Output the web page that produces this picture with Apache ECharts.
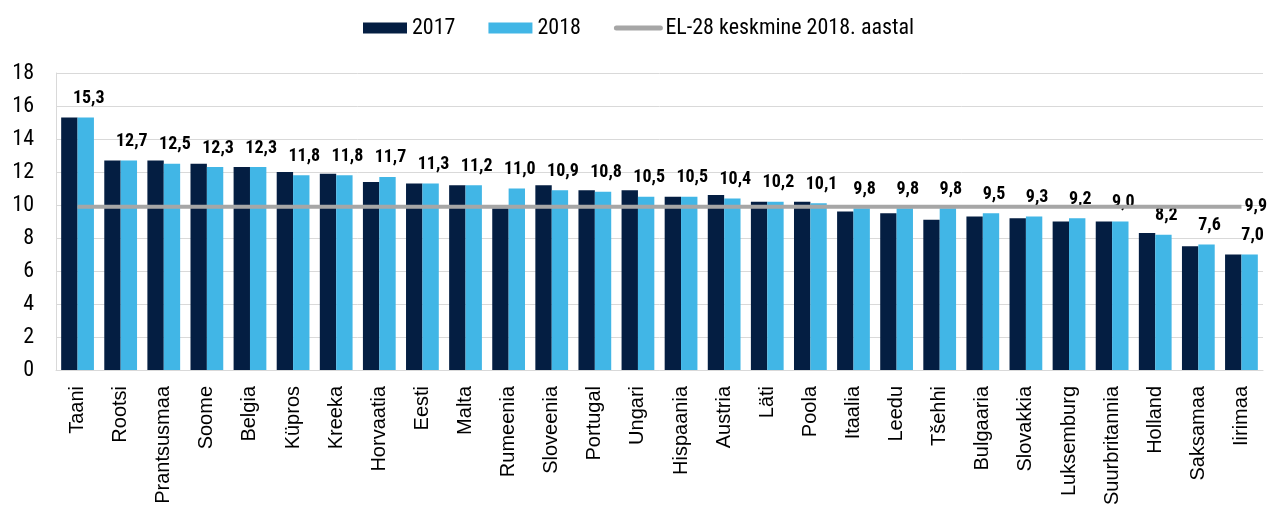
<!DOCTYPE html>
<html>
<head>
<meta charset="utf-8">
<script src="https://cdn.jsdelivr.net/npm/echarts@6/dist/echarts.min.js"></script>
<style>
  html, body { margin: 0; padding: 0; background: #fff; }
  #chartmain { width: 1272px; height: 518px; }
</style>
</head>
<body>
<div id="chartmain"></div>
<script>
var countries = ['Taani', 'Rootsi', 'Prantsusmaa', 'Soome', 'Belgia', 'Küpros', 'Kreeka', 'Horvaatia',
    'Eesti', 'Malta', 'Rumeenia', 'Sloveenia', 'Portugal', 'Ungari', 'Hispaania', 'Austria', 'Läti',
    'Poola', 'Itaalia', 'Leedu', 'Tšehhi', 'Bulgaaria', 'Slovakkia', 'Luksemburg', 'Suurbritannia',
    'Holland', 'Saksamaa', 'Iirimaa'];
var values2017 = [15.3, 12.7, 12.7, 12.5, 12.3, 12.0, 11.9, 11.4, 11.3, 11.2, 9.8, 11.2, 10.9, 10.9,
    10.5, 10.6, 10.2, 10.2, 9.6, 9.5, 9.1, 9.3, 9.2, 9.0, 9.0, 8.3, 7.5, 7.0];
var values2018 = [15.3, 12.7, 12.5, 12.3, 12.3, 11.8, 11.8, 11.7, 11.3, 11.2, 11.0, 10.9, 10.8, 10.5,
    10.5, 10.4, 10.2, 10.1, 9.8, 9.8, 9.8, 9.5, 9.3, 9.2, 9.0, 8.2, 7.6, 7.0];
var euAverage2018 = 9.9;
var yTicks = [0, 2, 4, 6, 8, 10, 12, 14, 16, 18];

var condensed = '"Roboto Condensed", "Liberation Sans Narrow", "DejaVu Sans Condensed", sans-serif';

function comma(v) {
    return v.toFixed(1).replace('.', ',');
}

var chart = echarts.init(document.getElementById('chartmain'), null, { renderer: 'canvas' });

chart.setOption({
    animation: false,
    legend: {
        top: 12,
        left: 358,
        itemGap: 33,
        itemWidth: 44,
        itemHeight: 11,
        textStyle: { fontFamily: condensed, fontSize: 22, color: '#000' },
        data: [
            { name: '2017', icon: 'rect' },
            { name: '2018', icon: 'rect' },
            {
                name: 'EL-28 keskmine 2018. aastal',
                itemStyle: { opacity: 0 },
                lineStyle: { width: 5, color: '#a6a6a6', cap: 'round' }
            }
        ]
    },
    grid: { left: 56, right: 9, top: 73, bottom: 148 },
    xAxis: {
        type: 'category',
        data: countries,
        axisLine: { lineStyle: { color: '#d9d9d9' } },
        axisTick: { show: false },
        axisLabel: {
            rotate: 90,
            interval: 0,
            margin: 16,
            fontFamily: '"Liberation Sans", Arial, sans-serif',
            fontSize: 20,
            color: '#000'
        }
    },
    yAxis: {
        type: 'value',
        min: yTicks[0],
        max: yTicks[yTicks.length - 1],
        interval: 2,
        axisLine: { show: true, lineStyle: { color: '#d9d9d9' } },
        axisTick: { show: false },
        splitLine: { lineStyle: { color: '#d9d9d9' } },
        axisLabel: { fontFamily: condensed, fontSize: 22, color: '#000', margin: 22 }
    },
    series: [
        {
            name: '2017',
            type: 'bar',
            data: values2017,
            barGap: '0%',
            barCategoryGap: '24%',
            itemStyle: { color: '#041e42' }
        },
        {
            name: '2018',
            type: 'bar',
            data: values2018,
            itemStyle: { color: '#41b6e6' },
            label: {
                show: true,
                position: 'top',
                distance: 10,
                offset: [3, 0],
                fontFamily: condensed,
                fontWeight: 'bold',
                fontSize: 18,
                color: '#000',
                formatter: function (p) { return comma(p.value); }
            }
        },
        {
            name: 'EL-28 keskmine 2018. aastal',
            type: 'line',
            data: countries.map(function () { return euAverage2018; }),
            symbol: 'none',
            z: 2,
            lineStyle: { color: '#a6a6a6', width: 4 },
            itemStyle: { color: '#a6a6a6' },
            endLabel: {
                show: true,
                distance: 3,
                fontFamily: condensed,
                fontWeight: 'bold',
                fontSize: 18,
                color: '#000',
                formatter: function (p) { return comma(p.value); }
            }
        }
    ]
});
</script>
</body>
</html>
